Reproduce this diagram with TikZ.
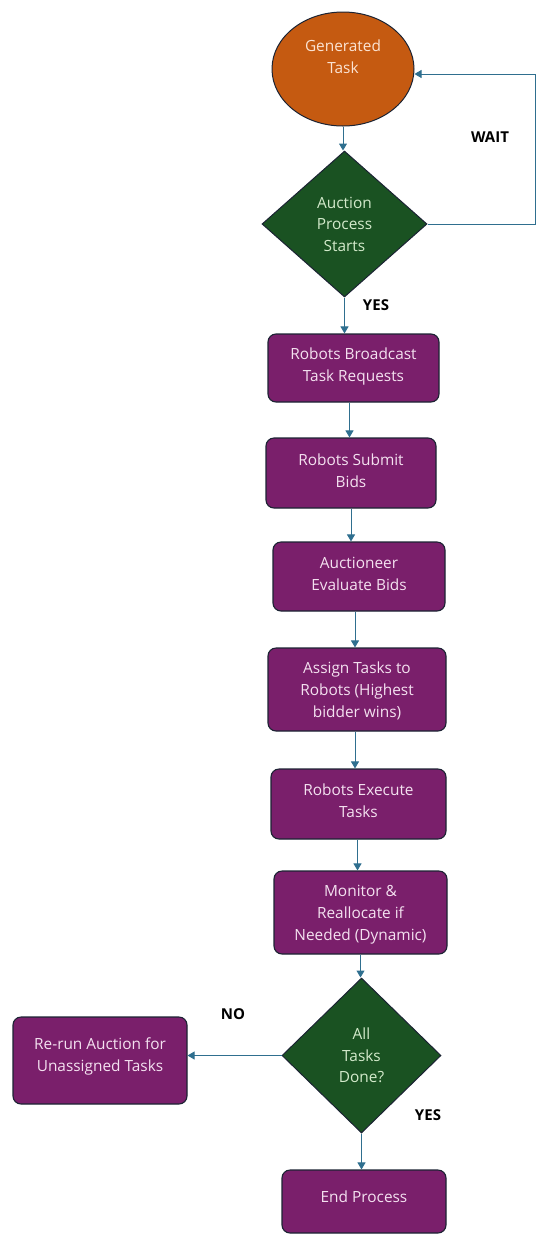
\documentclass[tikz,border=0pt]{standalone}
\usepackage{fontspec}
\setmainfont{Open Sans}
\usetikzlibrary{shapes.geometric,arrows.meta}
\definecolor{orangeF}{HTML}{C55A11}
\definecolor{greenF}{HTML}{1A5222}
\definecolor{purpleF}{HTML}{7A1F6B}
\definecolor{arrowC}{HTML}{2F6F8F}
\definecolor{edgeC}{HTML}{1B2333}
\definecolor{boxT}{HTML}{F4E1F0}
\definecolor{diaT}{HTML}{D3EACB}
\definecolor{ellT}{HTML}{FBE3D3}
\tikzset{
  procbox/.style={draw=edgeC, line width=1.1pt, fill=purpleF, rounded corners=8pt,
    text=boxT, align=center, inner sep=0pt, font=\fontsize{15.4}{22}\selectfont},
  decbox/.style={diamond, draw=edgeC, line width=1pt, fill=greenF, text=diaT,
    align=center, inner sep=0pt, font=\fontsize{15.4}{21.5}\selectfont},
  conn/.style={draw=arrowC, line width=1pt, -{Triangle[width=8pt,length=7pt]}},
  plainconn/.style={draw=arrowC, line width=1pt},
  lbl/.style={font=\bfseries\fontsize{15}{17}\selectfont, text=black, inner sep=0pt}
}
\begin{document}
\begin{tikzpicture}[x=1pt,y=-1pt]
\useasboundingbox (0,0) rectangle (550,1243);
% start ellipse
\node[ellipse, draw=edgeC, line width=1pt, fill=orangeF, minimum width=142pt, minimum height=114pt, inner sep=0pt] (gen) at (343,69) {};
\node[text=ellT, align=center, font=\fontsize{15.4}{22}\selectfont, inner sep=0pt] (gentxt) at (343,57) {Generated\\Task};
% decision 1
\node[decbox, minimum width=165pt, minimum height=146pt] (auc) at (344.5,224) {Auction\\Process\\Starts};
% process boxes
\node[procbox, minimum width=171pt, minimum height=68pt, text depth=7pt] (b1) at (353.5,368) {Robots Broadcast\\Task Requests};
\node[procbox, minimum width=170pt, minimum height=70pt, text depth=5pt] (b2) at (351,473) {Robots Submit\\Bids};
\node[procbox, minimum width=172pt, minimum height=69pt, text depth=6pt] (b3) at (359,576.5) {Auctioneer\\Evaluate Bids};
\node[procbox, minimum width=178pt, minimum height=83pt, text depth=0pt] (b4) at (357,689.5) {Assign Tasks to\\Robots (Highest\\bidder wins)};
\node[procbox, minimum width=175pt, minimum height=70pt, text depth=7pt] (b5) at (358.5,804) {Robots Execute\\Tasks};
\node[procbox, minimum width=173pt, minimum height=83pt, text depth=0pt] (b6) at (360.5,912.5) {Monitor \&\\Reallocate if\\Needed (Dynamic)};
% decision 2
\node[decbox, minimum width=159pt, minimum height=155pt] (done) at (361.5,1055.5) {All\\Tasks\\Done?};
\node[procbox, minimum width=174pt, minimum height=87pt, text depth=11pt] (rerun) at (100,1060.5) {Re-run Auction for\\Unassigned Tasks};
\node[procbox, minimum width=164pt, minimum height=63pt, text depth=9pt] (endp) at (364,1201.5) {End Process};
% connectors
\draw[conn] (gen.south) -- (gen.south |- auc.north);
\coordinate (wc) at (535,74);
\draw[plainconn] (auc.east) -| (wc);
\draw[conn] (wc) -- (gen.east |- wc);
\draw[conn] (auc.south) -- (auc.south |- b1.north);
\draw[conn] ([xshift=-4pt]b1.south) -- ([xshift=-4pt]b1.south |- b2.north);
\draw[conn] (b2.south) -- (b2.south |- b3.north);
\draw[conn] ([xshift=-4pt]b3.south) -- ([xshift=-4pt]b3.south |- b4.north);
\draw[conn] ([xshift=-2pt]b4.south) -- ([xshift=-2pt]b4.south |- b5.north);
\draw[conn] ([xshift=-1pt]b5.south) -- ([xshift=-1pt]b5.south |- b6.north);
\draw[conn] (b6.south) -- (b6.south |- done.north);
\draw[conn] (done.west) -- (done.west -| rerun.east);
\draw[conn] (done.south) -- (done.south |- endp.north);
% labels
\node[lbl] (wait) at (490,137) {WAIT};
\node[lbl] (yes1) at (376,305) {YES};
\node[lbl] (no) at (233,1014) {NO};
\node[lbl] (yes2) at (428,1115) {YES};
\end{tikzpicture}
\end{document}
